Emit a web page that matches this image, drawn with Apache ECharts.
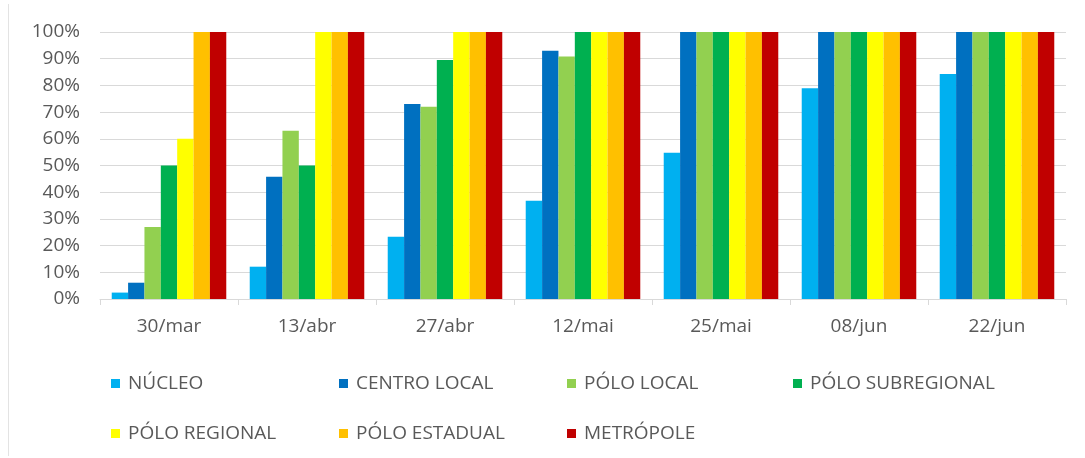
<!DOCTYPE html>
<html>
<head>
<meta charset="utf-8">
<script src="https://cdn.jsdelivr.net/npm/echarts@6/dist/echarts.min.js"></script>
<style>
  html, body { margin: 0; padding: 0; background: #fff; }
  #chart { width: 1085px; height: 458px; }
</style>
</head>
<body>
<div id="chart"></div>
<script>
// datas (eixo x)
const categorias = ['30/mar', '13/abr', '27/abr', '12/mai', '25/mai', '08/jun', '22/jun'];

// % de municípios por classe de hierarquia urbana
const nucleo = [2.4, 12.1, 23.3, 36.8, 54.8, 78.9, 84.3];
const centroLocal = [6.1, 45.8, 73, 93, 100, 100, 100];
const poloLocal = [27, 63, 72, 90.8, 100, 100, 100];
const poloSubregional = [50, 50, 89.5, 100, 100, 100, 100];
const poloRegional = [60, 100, 100, 100, 100, 100, 100];
const poloEstadual = [100, 100, 100, 100, 100, 100, 100];
const metropole = [100, 100, 100, 100, 100, 100, 100];

const yTicks = [0, 10, 20, 30, 40, 50, 60, 70, 80, 90, 100];

const series = [
  { name: 'NÚCLEO', data: nucleo, color: '#00b0f0' },
  { name: 'CENTRO LOCAL', data: centroLocal, color: '#0070c0' },
  { name: 'PÓLO LOCAL', data: poloLocal, color: '#92d050' },
  { name: 'PÓLO SUBREGIONAL', data: poloSubregional, color: '#00b050' },
  { name: 'PÓLO REGIONAL', data: poloRegional, color: '#ffff00' },
  { name: 'PÓLO ESTADUAL', data: poloEstadual, color: '#ffc000' },
  { name: 'METRÓPOLE', data: metropole, color: '#c00000' }
];

const fonte = 'Open Sans, Noto Sans, sans-serif';
const cinza = '#595959';

// legenda em grade 4 + 3, uma legenda por item
const colunas = [106, 334, 562, 788];
const linhas = [369, 419];
const legendas = series.map((s, i) => ({
  left: colunas[i % 4],
  top: linhas[Math.floor(i / 4)],
  icon: 'rect',
  itemWidth: 9,
  itemHeight: 9,
  data: [s.name],
  textStyle: { color: cinza, fontSize: 19, fontFamily: fonte, padding: [0, 0, 0, 3] }
}));

const chart = echarts.init(document.getElementById('chart'));
chart.setOption({
  animation: false,
  grid: { left: 100, right: 19, top: 32, bottom: 159 },
  legend: legendas,
  // borda fina à esquerda, como no print original
  graphic: [{
    type: 'line',
    shape: { x1: 8.5, y1: 4, x2: 8.5, y2: 456 },
    style: { stroke: '#e3e3e3', lineWidth: 1 }
  }],
  xAxis: {
    type: 'category',
    data: categorias,
    axisLine: { lineStyle: { color: '#d9d9d9' } },
    axisTick: { show: true, length: 6, lineStyle: { color: '#d9d9d9' } },
    axisLabel: { color: cinza, fontSize: 19, fontFamily: fonte, margin: 18 }
  },
  yAxis: {
    type: 'value',
    min: yTicks[0],
    max: yTicks[yTicks.length - 1],
    interval: 10,
    axisLine: { show: false },
    axisTick: { show: false },
    splitLine: { lineStyle: { color: '#d9d9d9' } },
    axisLabel: { color: cinza, fontSize: 19, fontFamily: fonte, margin: 20, formatter: '{value}%' }
  },
  series: series.map(s => ({
    name: s.name,
    type: 'bar',
    data: s.data,
    itemStyle: { color: s.color },
    barGap: '0%',
    barCategoryGap: '17%'
  }))
});
</script>
</body>
</html>
